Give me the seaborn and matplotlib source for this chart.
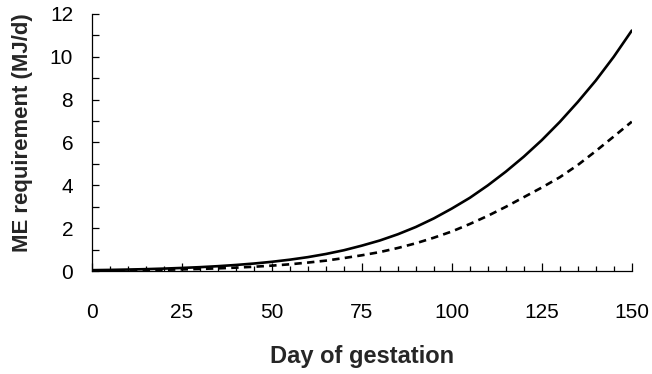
import numpy as np
import pandas as pd
import matplotlib
matplotlib.use("Agg")
import matplotlib.pyplot as plt
from matplotlib.ticker import MultipleLocator
import seaborn as sns

days = [0, 5, 10, 15, 20, 25, 30, 35, 40, 45, 50, 55, 60, 65, 70, 75,
        80, 85, 90, 95, 100, 105, 110, 115, 120, 125, 130, 135, 140, 145, 150]
me_solid = [0.046, 0.058, 0.074, 0.094, 0.119, 0.150, 0.186, 0.232, 0.288, 0.355,
            0.436, 0.535, 0.654, 0.800, 0.975, 1.19, 1.43, 1.72, 2.06, 2.46,
            2.92, 3.42, 4.00, 4.64, 5.34, 6.11, 6.96, 7.89, 8.89, 10.00, 11.22]
me_dashed = [0.026, 0.033, 0.041, 0.052, 0.065, 0.082, 0.103, 0.130, 0.164, 0.205,
             0.257, 0.320, 0.400, 0.490, 0.610, 0.740, 0.89, 1.08, 1.30, 1.56,
             1.85, 2.20, 2.58, 3.00, 3.45, 3.90, 4.38, 4.95, 5.60, 6.28, 6.97]

x_ticks = [0, 25, 50, 75, 100, 125, 150]
y_ticks = [0, 2, 4, 6, 8, 10, 12]

sns.set_theme(style="ticks")
plt.rcParams["font.family"] = ["Liberation Sans", "DejaVu Sans"]

df_s = pd.DataFrame({"day": days, "me": me_solid})
df_d = pd.DataFrame({"day": days, "me": me_dashed})

fig = plt.figure(figsize=(6.52, 3.74), dpi=100)
ax = fig.add_axes([0.141, 0.275, 0.828, 0.688])

sns.lineplot(data=df_s, x="day", y="me", ax=ax, color="black", linewidth=1.9)
sns.lineplot(data=df_d, x="day", y="me", ax=ax, color="black", linewidth=1.9,
             linestyle=(0, (2.8, 2.0)))

ax.set_xlim(0, 150)
ax.set_ylim(0, 12)
ax.set_xticks(x_ticks)
ax.set_yticks(y_ticks)
ax.set_xticklabels([str(v) for v in x_ticks])
ax.set_yticklabels([str(v) for v in y_ticks])
ax.xaxis.set_minor_locator(MultipleLocator(5))
ax.yaxis.set_minor_locator(MultipleLocator(1))

for s in ["top", "right"]:
    ax.spines[s].set_visible(False)
for s in ["left", "bottom"]:
    ax.spines[s].set_color("black")
    ax.spines[s].set_linewidth(0.9)

ax.tick_params(axis="x", which="major", direction="in", length=6, width=0.9,
               color="black", labelsize=15, pad=23, labelcolor="black")
ax.tick_params(axis="x", which="minor", direction="in", length=3.6, width=0.9, color="black")
ax.tick_params(axis="y", which="both", direction="in", length=5, width=0.9,
               color="black", labelsize=15, pad=13.5, labelcolor="black")

ax.set_xlabel("Day of gestation", fontsize=17, fontweight="bold", labelpad=16.5)
ax.set_ylabel("ME requirement (MJ/d)", fontsize=15.9, fontweight="bold")
ax.yaxis.set_label_coords(-0.109, 0.537)

fig.savefig("out.png", dpi=100)
